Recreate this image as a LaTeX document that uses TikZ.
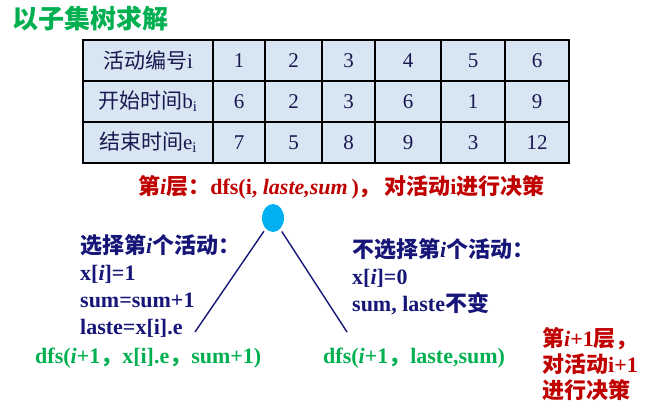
\documentclass[tikz,border=0pt]{standalone}
\usepackage{fontspec}
\setmainfont{Liberation Serif}
\newfontfamily\cjk{Noto Sans CJK SC}
\usetikzlibrary{shapes.geometric,positioning}
\definecolor{titlegreen}{RGB}{0,176,80}
\definecolor{cellblue}{RGB}{216,230,243}
\definecolor{inknavy}{RGB}{22,22,120}
\definecolor{tabnavy}{RGB}{24,24,80}
\definecolor{layerred}{RGB}{192,0,0}
\definecolor{nodeblue}{RGB}{0,176,240}
\newcommand{\zh}[1]{{\cjk #1}}
\tikzset{
	title/.style={
		anchor=west,
		inner sep=0pt,
		text=titlegreen,
		font=\fontsize{26}{30}\selectfont\bfseries
	},
	cell/.style={
		draw=black,
		line width=2.2pt,
		fill=cellblue,
		inner sep=0pt,
		minimum height=41pt,
		text=tabnavy,
		font=\fontsize{21}{24}\selectfont
	},
	note/.style={
		anchor=west,
		inner sep=0pt,
		align=left,
		font=\fontsize{22}{27}\selectfont\bfseries
	},
	treenode/.style={
		ellipse,
		fill=nodeblue,
		minimum width=22pt,
		minimum height=28pt,
		inner sep=0pt
	},
	branch/.style={
		draw=inknavy,
		line width=1.4pt,
		shorten <=3pt
	}
}

\begin{document}
\begin{tikzpicture}[x=1pt,y=1pt]
	\useasboundingbox (0,0) rectangle (655,-417);
	
	% Title
	\node[title] (ttl) at (12,-19) {\zh{以子集树求解}};
	
	% Table
	\node[cell,minimum width=130pt] (h1) at (148,-60.5) {\zh{活动编号}i};
	\node[cell,minimum width=130pt] (h2) at (148,-101.5) {\zh{开始时间}b\textsubscript{i}};
	\node[cell,minimum width=130pt] (h3) at (148,-142.5) {\zh{结束时间}e\textsubscript{i}};
	\foreach \k/\xl/\xr/\ta/\tb/\tc in {1/213/265/1/6/7,2/265/322/2/2/5,3/322/375/3/3/8,
		4/375/441/4/6/9,5/441/505/5/1/3,6/505/569/6/9/12}{
		\node[cell,minimum width=(\xr-\xl)*1pt] (a\k) at ({(\xl+\xr)/2},-60.5) {\ta};
		\node[cell,minimum width=(\xr-\xl)*1pt] (b\k) at ({(\xl+\xr)/2},-101.5) {\tb};
		\node[cell,minimum width=(\xr-\xl)*1pt] (e\k) at ({(\xl+\xr)/2},-142.5) {\tc};
	}
	
	% Layer i
	\node[note,text=layerred] (layer) at (138,-187)
	{\zh{第}\textit{i}\zh{层：}dfs(i, \textit{laste,sum}\,)\zh{，}\,\zh{对活动}i\zh{进行决策}};
	
	% Tree
	\node[treenode] (root) at (273,-218) {};
	\coordinate (lend) at (195,-332);
	\coordinate (rend) at (347,-332);
	\draw[branch] (root) -- (lend);
	\draw[branch] (root) -- (rend);
	
	% Choices
	\node[note,text=inknavy] (pick) at (80,-286)
	{\zh{选择第}\textit{i}\zh{个活动：}\\x[\textit{i}]=1\\sum=sum+1\\laste=x[i].e};
	\node[note,text=inknavy] (skip) at (352,-277)
	{\zh{不选择第}\textit{i}\zh{个活动：}\\x[\textit{i}]=0\\sum, laste\zh{不变}};
	\node[note,text=titlegreen] (dfsl) at (35,-358)
	{dfs(\textit{i}+1\zh{，}x[i].e\zh{，}sum+1)};
	\node[note,text=titlegreen] (dfsr) at (323,-358)
	{dfs(\textit{i}+1\zh{，}laste,sum)};
	
	% Layer i+1
	\node[note,text=layerred,font=\fontsize{22}{26}\selectfont\bfseries] (next) at (542,-364)
	{\zh{第}\textit{i}+1\zh{层，}\\\zh{对活动}i+1\\\zh{进行决策}};
	
\end{tikzpicture}
\end{document}
